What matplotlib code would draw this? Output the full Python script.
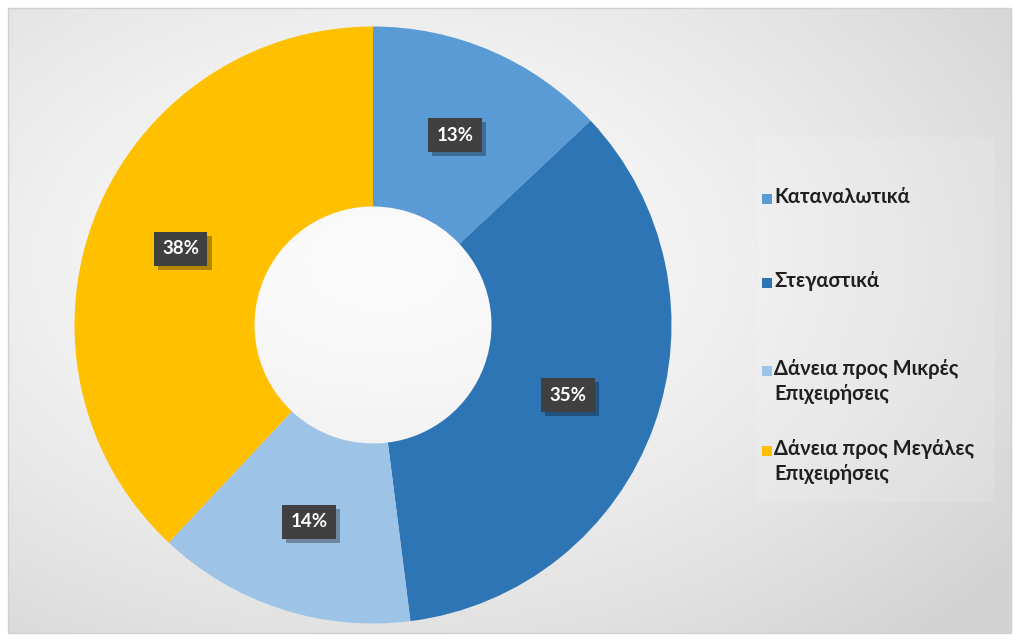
import matplotlib
matplotlib.use('Agg')
import matplotlib.pyplot as plt
import matplotlib.patheffects as pe
import numpy as np
from matplotlib.patches import Rectangle

plt.rcParams['font.family'] = ['Lato', 'Open Sans', 'DejaVu Sans']

categories = ['Καταναλωτικά', 'Στεγαστικά', 'Δάνεια προς Μικρές\nΕπιχειρήσεις', 'Δάνεια προς Μεγάλες\nΕπιχειρήσεις']
shares = [13, 35, 14, 38]
colors = ['#5B9BD5', '#2E75B6', '#9DC3E6', '#FFC000']

W, H = 1019, 641
fig = plt.figure(figsize=(W / 100, H / 100), dpi=100)

# background: light radial shading inside a thin frame
bg = fig.add_axes([0, 0, 1, 1])
bg.set_xlim(0, W)
bg.set_ylim(H, 0)
bg.axis('off')
yy, xx = np.mgrid[0:H, 0:W]
d = np.sqrt(((xx - 380) / 700.0) ** 2 + ((yy - 260) / 460.0) ** 2)
shade = np.clip(0.985 - 0.13 * d ** 1.5, 0.83, 1.0)
img = np.dstack([shade, shade, shade])
bg.imshow(img, extent=[8, 1011, 633, 8], zorder=0)
bg.add_patch(Rectangle((8, 8), 1003, 625, fill=False, ec='#d0d0d0', lw=1, zorder=1))
bg.add_patch(Rectangle((757, 137), 238, 365, fc='white', alpha=0.12, ec='none', zorder=1))

# donut
cx, cy, r = 373, 325, 300
ax = fig.add_axes([(cx - r) / W, (H - cy - r) / H, 2 * r / W, 2 * r / H])
wedges, _ = ax.pie(shares, colors=colors, startangle=90, counterclock=False,
                   radius=0.995, wedgeprops=dict(width=0.6, edgecolor='none'))
ax.set_xlim(-1, 1)
ax.set_ylim(-1, 1)
ax.set_aspect('equal')
ax.axis('off')

# value labels in dark boxes with a soft drop shadow
start = 90.0
for v in shares:
    mid = np.deg2rad(start - v / 100 * 360 / 2)
    start -= v / 100 * 360
    x, y = 0.69 * np.cos(mid), 0.69 * np.sin(mid)
    t = ax.text(x, y, f'{v}%', ha='center', va='center', fontsize=13.5, fontweight='bold',
                color='white', bbox=dict(boxstyle='square,pad=0.45', fc='#404040', ec='none'))
    t.get_bbox_patch().set_path_effects([
        pe.SimplePatchShadow(offset=(3, -3), shadow_rgbFace='black', alpha=0.3),
        pe.Normal()])

# legend
legend_y = [199, 283, 371, 451]
for lab, col, ly in zip(categories, colors, legend_y):
    bg.add_patch(Rectangle((762, ly - 5), 10, 10, fc=col, ec='none', zorder=3))
    bg.text(774, ly - 12, lab, ha='left', va='top', fontsize=14.5, fontweight='bold',
            color='#1f1f1f', linespacing=1.3, zorder=3)

fig.savefig('out.png', dpi=100)
